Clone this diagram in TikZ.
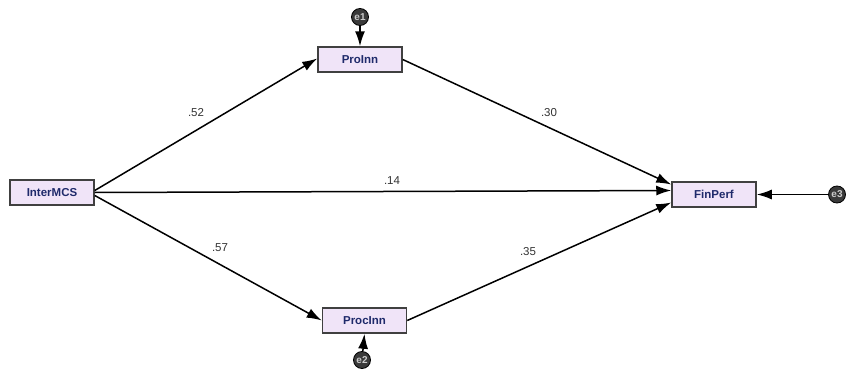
\documentclass[tikz,border=0pt]{standalone}
\usepackage{fontspec}
\setmainfont{Liberation Sans}
\usetikzlibrary{arrows.meta}
\definecolor{boxfill}{HTML}{F0E4F8}
\definecolor{boxtext}{HTML}{1F2A6B}
\definecolor{errfill}{HTML}{3A3A3A}
\begin{document}
\begin{tikzpicture}[x=1pt,y=-1pt,
  var/.style={draw=black!75,line width=1.5pt,fill=boxfill,minimum width=84pt,minimum height=25pt,inner sep=0pt,font=\fontsize{11.5}{12}\selectfont\bfseries\color{boxtext}},
  err/.style={circle,draw=black,fill=errfill,line width=0.8pt,minimum size=17pt,inner sep=0pt,font=\fontsize{10}{10}\selectfont\bfseries\color{white!80!black}},
  path/.style={line width=1.5pt,-{Latex[length=15pt,width=10pt]}},
  lab/.style={font=\fontsize{11.5}{12}\selectfont,text=black!80}]
\useasboundingbox (0,0) rectangle (847,372);
\node[var] (inter) at (52,192.5) {InterMCS};
\node[var] (pro) at (360,59.5) {ProInn};
\node[var] (proc) at (364.5,320.5) {ProcInn};
\node[var] (fin) at (714,194.5) {FinPerf};
\node[err] (e1) at (360,17) {e1};
\node[err] (e2) at (362,360) {e2};
\node[err] (e3) at (837,194.5) {e3};
\draw[path] ([yshift=2pt]inter.east) -- ([yshift=1pt]pro.west);
\draw[path] (inter.east) -- ([yshift=4pt]fin.west);
\draw[path] ([yshift=-3pt]inter.east) -- (proc.west);
\draw[path] (pro.east) -- ([yshift=10pt]fin.west);
\draw[path] (proc.east) -- ([yshift=-8pt]fin.west);
\draw[path] (e1) -- (pro.north);
\draw[path] (e2) -- (proc.south);
\draw[path] (e3) -- (fin.east);
\node[lab] (l52) at (196,113) {.52};
\node[lab] (l30) at (549,113) {.30};
\node[lab] (l14) at (392,181) {.14};
\node[lab] (l57) at (220,248) {.57};
\node[lab] (l35) at (528,252) {.35};
\end{tikzpicture}
\end{document}
